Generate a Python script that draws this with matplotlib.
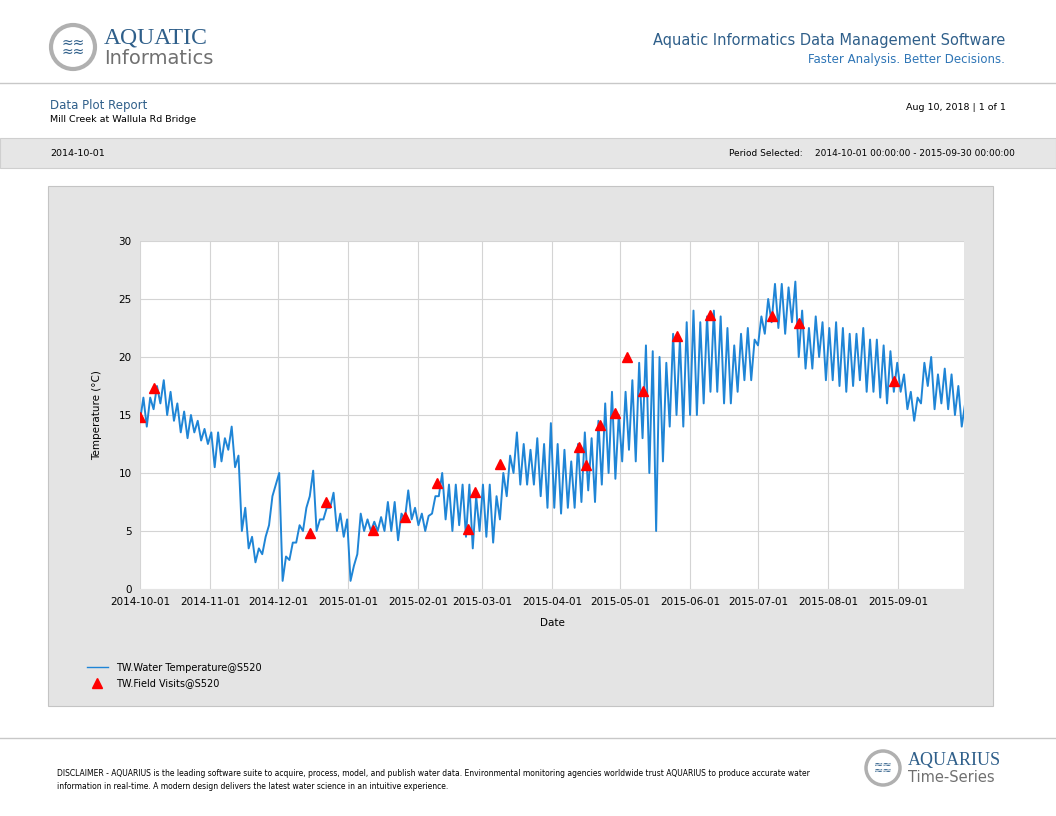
import numpy as np
import pandas as pd
import matplotlib
matplotlib.use('Agg')
import matplotlib.pyplot as plt
import matplotlib.dates as mdates
from matplotlib.patches import Rectangle, Ellipse

# envelope readings every 3 days from 2014-10-01 (daily low / daily high)
temp_low = [14.5, 14.0, 15.5, 16.0, 15.0, 14.5, 13.5, 13.0, 13.5, 12.8, 12.5,
            10.5, 11, 12, 10.5, 5, 3.5, 2.3, 3, 5.5, 9,
            0.7, 2.5, 4, 5, 8, 5, 6, 7, 5, 4.5,
            0.7, 3, 5, 5, 5, 5, 5, 4.2, 6, 6,
            5.5, 5, 6.5, 8, 6, 5, 5.5, 4.5, 3.5, 5,
            4.5, 4, 6, 8, 10, 9, 9, 9, 8, 7,
            7, 6.5, 7, 7, 7.5, 8.5, 7.5, 9, 10, 9.5,
            11, 12, 11, 13, 10, 5, 11, 14, 15, 14,
            15, 15, 16, 17, 17, 16, 16, 17, 18, 18,
            21, 22, 23, 22.5, 22, 23, 20, 19, 19, 20, 18,
            18, 17.5, 17, 17.5, 18, 17, 17, 16.5, 16, 17,
            17, 15.5, 14.5, 16, 17.5, 15.5, 16, 15.5, 15, 14]
temp_high = [16.5, 16.5, 17.5, 18.0, 17.0, 16.0, 15.3, 15.0, 14.5, 13.8, 13.5,
             13.5, 13, 14, 11.5, 7, 4.5, 3.5, 4.5, 8, 10,
             2.8, 4, 5.5, 7, 10.2, 6, 7, 8.3, 6.5, 6,
             2, 6.5, 6, 5.8, 6.2, 7.5, 7.5, 6.5, 8.5, 7,
             6.5, 6.3, 8, 10, 9, 9, 9, 9, 8, 9,
             9, 8, 10, 11.5, 13.5, 12.5, 12, 13, 12.5, 14.3,
             12.5, 12, 11, 12.5, 13.5, 13, 14.5, 16, 17, 15,
             17, 18, 19.5, 21, 20.5, 20, 19.5, 22, 21.5, 23,
             24, 23, 23.5, 24, 23.5, 22.5, 21, 22, 22.5, 21.5,
             23.5, 25, 26.3, 26.3, 26, 26.5, 24, 22.5, 23.5, 23, 22.5,
             23, 22.5, 22, 22, 22.5, 21.5, 21.5, 21, 20.5, 19.5,
             18.5, 17, 16.5, 19.5, 20, 18.5, 19, 18.5, 17.5, 16]

visit_dates = ['2014-10-01', '2014-10-07', '2014-12-15', '2014-12-22', '2015-01-12',
               '2015-01-26', '2015-02-09', '2015-02-23', '2015-02-26', '2015-03-09',
               '2015-04-13', '2015-04-16', '2015-04-22', '2015-04-29', '2015-05-04',
               '2015-05-11', '2015-05-26', '2015-06-10', '2015-07-07', '2015-07-19',
               '2015-08-30']
visit_temps = [14.8, 17.3, 4.8, 7.5, 5.1, 6.2, 9.1, 5.2, 8.4, 10.8,
               12.2, 10.7, 14.1, 15.2, 20.0, 17.1, 21.8, 23.6, 23.5, 22.9, 17.9]

start = pd.Timestamp('2014-10-01')
t, v = [], []
for i, (lo, hi) in enumerate(zip(temp_low, temp_high)):
    t.append(start + pd.Timedelta(hours=72 * i))
    v.append(lo)
    t.append(start + pd.Timedelta(hours=72 * i + 36))
    v.append(hi)

W, H = 1056, 816
fig = plt.figure(figsize=(10.56, 8.16), dpi=100)
plt.rcParams['font.family'] = ['DejaVu Sans']

def fx(x): return x / W
def fy(y): return 1 - y / H

blue = '#2f5f8a'

def logo(x, y, r, lw, fs):
    fig.patches.append(Ellipse((fx(x), fy(y)), 2 * r / W, 2 * r / H, transform=fig.transFigure,
                               facecolor='white', edgecolor='#b0b0b0', lw=lw))
    fig.text(fx(x), fy(y), '≈≈\n≈≈', color=blue, fontsize=fs, ha='center', va='center',
             linespacing=0.55)

# header
logo(73, 47, 22, 3, 10)
fig.text(fx(104), fy(38), 'AQUATIC', color=blue, fontsize=17, va='center', family='Liberation Serif')
fig.text(fx(104), fy(59), 'Informatics', color='#707070', fontsize=14, va='center')
fig.text(fx(1005), fy(41), 'Aquatic Informatics Data Management Software', color=blue,
         fontsize=10.5, ha='right', va='center')
fig.text(fx(1005), fy(60), 'Faster Analysis. Better Decisions.', color='#2e75b6',
         fontsize=8.5, ha='right', va='center')
fig.add_artist(plt.Line2D([0, 1], [fy(83), fy(83)], color='#c8c8c8', lw=1))
fig.text(fx(50), fy(105), 'Data Plot Report', color=blue, fontsize=8.5, va='center')
fig.text(fx(50), fy(120), 'Mill Creek at Wallula Rd Bridge', fontsize=6.8, va='center')
fig.text(fx(1006), fy(107), 'Aug 10, 2018 | 1 of 1', fontsize=6.8, ha='right', va='center')
fig.patches.append(Rectangle((0, fy(168)), 1, (168 - 138) / H, transform=fig.transFigure,
                             facecolor='#e6e6e6', edgecolor='#cfcfcf', lw=0.8))
fig.text(fx(50), fy(153), '2014-10-01', fontsize=6.8, va='center')
fig.text(fx(729), fy(153), 'Period Selected:', fontsize=6.5, va='center')
fig.text(fx(1015), fy(153), '2014-10-01 00:00:00 - 2015-09-30 00:00:00', fontsize=6.5,
         ha='right', va='center')

# chart panel
fig.patches.append(Rectangle((fx(48), fy(706)), (993 - 48) / W, (706 - 186) / H,
                             transform=fig.transFigure, facecolor='#e4e4e4',
                             edgecolor='#c4c4c4', lw=0.8, zorder=-5))
ax = fig.add_axes([fx(140), fy(589), (964 - 140) / W, (589 - 241) / H])
ax.set_zorder(5)
ax.set_facecolor('white')
ax.plot(t, v, color='#1f85d6', lw=1.4, label='TW.Water Temperature@S520')
ax.plot(pd.to_datetime(visit_dates), visit_temps, '^', color='red', ms=7,
        label='TW.Field Visits@S520', zorder=3)
ax.set_ylim(0, 30)
ax.set_xlim(pd.Timestamp('2014-10-01'), pd.Timestamp('2015-09-30'))
ax.xaxis.set_major_locator(mdates.MonthLocator())
ax.xaxis.set_major_formatter(mdates.DateFormatter('%Y-%m-%d'))
ax.grid(True, color='#d4d4d4', lw=0.8)
ax.tick_params(labelsize=7.5, length=0, pad=6)
for s in ax.spines.values():
    s.set_visible(False)
ax.set_xlabel('Date', fontsize=7.5, labelpad=8)
ax.set_ylabel('Temperature (°C)', fontsize=7.5, labelpad=12)
leg = fig.legend(loc='upper left', bbox_to_anchor=(fx(78), fy(654)), frameon=False,
                 fontsize=7, handlelength=2.2, labelspacing=0.6)
leg.get_lines()[0].set_linewidth(1.0)

# footer
fig.add_artist(plt.Line2D([0, 1], [fy(738), fy(738)], color='#c8c8c8', lw=1))
fig.text(fx(57), fy(780), 'DISCLAIMER - AQUARIUS is the leading software suite to acquire, process, model, '
         'and publish water data. Environmental monitoring agencies worldwide trust AQUARIUS to produce accurate water\n'
         'information in real-time. A modern design delivers the latest water science in an intuitive experience.',
         fontsize=5.5, va='center', linespacing=1.6)
logo(883, 768, 17, 2.5, 8)
fig.text(fx(908), fy(760), 'AQUARIUS', color=blue, fontsize=13, va='center', family='Liberation Serif')
fig.text(fx(908), fy(778), 'Time-Series', color='#707070', fontsize=10.5, va='center')

fig.savefig('out.png', dpi=100)
